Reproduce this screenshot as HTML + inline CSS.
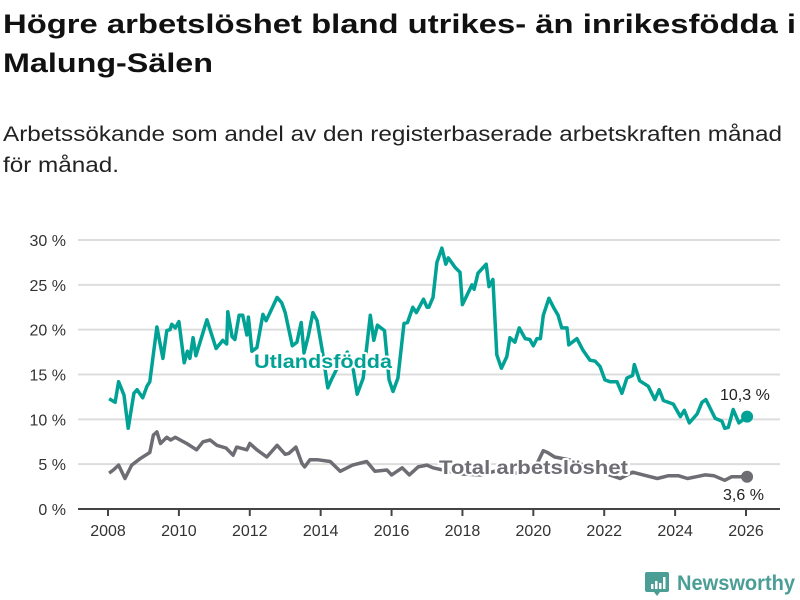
<!DOCTYPE html>
<html><head><meta charset="utf-8"><style>
html,body{margin:0;padding:0;background:#fff;width:800px;height:600px;overflow:hidden}
svg{display:block;font-family:"Liberation Sans",sans-serif}
</style></head><body>
<svg id="chart" width="800" height="600">
<text x="3" y="33" font-size="27" font-weight="bold" fill="#111" textLength="793" lengthAdjust="spacingAndGlyphs">Högre arbetslöshet bland utrikes- än inrikesfödda i</text>
<text x="3" y="72" font-size="27" font-weight="bold" fill="#111" textLength="210" lengthAdjust="spacingAndGlyphs">Malung-Sälen</text>
<text x="3" y="141" font-size="21" fill="#222" textLength="779" lengthAdjust="spacingAndGlyphs">Arbetssökande som andel av den registerbaserade arbetskraften månad</text>
<text x="3" y="172" font-size="21" fill="#222" textLength="116" lengthAdjust="spacingAndGlyphs">för månad.</text>
<g id="grid"></g><g id="xaxis"></g><g id="lines"></g><g id="labels"></g>
<g>
<path d="M647 572 h20 a2 2 0 0 1 2 2 v16 a2 2 0 0 1 -2 2 h-7 l-3 4 l-3 -4 h-7 a2 2 0 0 1 -2 -2 v-16 a2 2 0 0 1 2 -2z" fill="#4a9e95"/>
<rect x="651" y="584" width="2.5" height="5" fill="#fff"/><rect x="655" y="581" width="2.5" height="8" fill="#fff"/><rect x="659" y="583" width="2.5" height="6" fill="#fff"/><rect x="663" y="577" width="2.5" height="12" fill="#fff"/>
<text x="677" y="590" font-size="21" font-weight="bold" fill="#4a9e95" textLength="118" lengthAdjust="spacingAndGlyphs">Newsworthy</text>
</g>
</svg>
<script>
const yTicks=[0,5,10,15,20,25,30];
const xTicks=[2008,2010,2012,2014,2016,2018,2020,2022,2024,2026];
const foreignDates=[2008.03,2008.2,2008.3,2008.45,2008.57,2008.73,2008.82,2008.98,2009.1,2009.18,2009.38,2009.55,2009.66,2009.75,2009.8,2009.9,2010.0,2010.15,2010.24,2010.31,2010.4,2010.48,2010.79,2011.05,2011.24,2011.35,2011.38,2011.5,2011.58,2011.7,2011.8,2011.92,2011.96,2012.06,2012.2,2012.37,2012.46,2012.57,2012.77,2012.9,2013.0,2013.2,2013.33,2013.45,2013.53,2013.65,2013.78,2013.9,2014.04,2014.2,2014.3,2014.5,2014.75,2014.9,2015.03,2015.2,2015.4,2015.5,2015.6,2015.8,2015.93,2016.04,2016.18,2016.35,2016.45,2016.6,2016.7,2016.9,2017.0,2017.05,2017.17,2017.28,2017.42,2017.53,2017.6,2017.8,2017.93,2018.0,2018.27,2018.33,2018.44,2018.67,2018.75,2018.86,2018.97,2019.1,2019.25,2019.34,2019.48,2019.6,2019.77,2019.9,2020.0,2020.1,2020.2,2020.28,2020.44,2020.58,2020.7,2020.8,2020.95,2021.0,2021.23,2021.4,2021.6,2021.74,2021.88,2022.02,2022.16,2022.36,2022.5,2022.64,2022.8,2022.85,2023.0,2023.24,2023.43,2023.55,2023.67,2023.95,2024.15,2024.26,2024.4,2024.62,2024.76,2024.87,2025.13,2025.32,2025.4,2025.5,2025.64,2025.8,2026.03];
const foreignValues=[12.3,11.9,14.2,12.7,9.0,12.9,13.3,12.4,13.7,14.2,20.3,16.8,19.9,20.0,20.6,20.2,20.9,16.3,17.6,16.8,19.1,17.1,21.1,17.9,18.8,18.4,22.0,19.2,18.9,21.6,21.6,19.4,21.4,17.6,18.0,21.7,21.0,21.9,23.6,23.0,21.9,18.2,18.6,20.8,17.4,19.3,21.9,21.0,17.8,13.5,14.4,16.0,17.5,16.0,12.8,14.6,21.6,18.8,20.5,19.9,14.4,13.1,14.6,20.7,20.8,22.5,21.9,23.4,22.5,22.5,23.6,27.5,29.1,27.3,28.0,26.9,26.4,22.8,25.0,24.5,26.3,27.3,24.8,25.6,17.2,15.7,17.0,19.1,18.6,20.2,19.0,18.9,18.2,19.0,19.0,21.6,23.5,22.4,21.6,20.2,20.2,18.3,19.0,17.7,16.6,16.5,15.9,14.4,14.2,14.2,12.9,14.6,14.9,16.1,14.3,13.7,12.2,13.3,12.1,11.7,10.3,11.0,9.6,10.6,11.9,12.2,10.1,9.8,9.0,9.1,11.1,9.6,10.3];
const totalDates=[2008.03,2008.15,2008.3,2008.48,2008.67,2008.9,2009.18,2009.28,2009.38,2009.48,2009.66,2009.77,2009.9,2010.22,2010.5,2010.68,2010.88,2011.07,2011.33,2011.53,2011.63,2011.92,2012.0,2012.2,2012.48,2012.77,2013.0,2013.1,2013.3,2013.47,2013.55,2013.7,2013.9,2014.27,2014.55,2014.9,2015.3,2015.53,2015.87,2016.0,2016.3,2016.5,2016.75,2017.0,2017.17,2017.5,2018.0,2018.5,2019.0,2019.5,2020.0,2020.28,2020.4,2020.6,2021.0,2021.5,2022.0,2022.45,2022.8,2023.1,2023.5,2023.8,2024.1,2024.35,2024.6,2024.85,2025.1,2025.4,2025.6,2026.03];
const totalValues=[4.0,4.35,4.9,3.4,4.9,5.6,6.3,8.25,8.6,7.3,8.0,7.7,8.0,7.3,6.6,7.5,7.7,7.1,6.8,6.0,6.9,6.6,7.3,6.6,5.8,7.1,6.1,6.2,6.9,5.1,4.7,5.5,5.5,5.3,4.2,4.9,5.3,4.2,4.35,3.8,4.6,3.8,4.7,4.9,4.6,4.3,3.9,3.8,4.3,4.0,4.2,6.5,6.3,5.8,5.5,4.8,4.0,3.4,4.1,3.8,3.4,3.7,3.7,3.4,3.6,3.8,3.7,3.2,3.6,3.6];
const endLabels=["10,3 %","3,6 %"];
const NS="http://www.w3.org/2000/svg";
const X0=2008,X1=2026,PX0=108,PX1=746,PY0=509,PY30=240;
const sx=v=>PX0+(v-X0)*(PX1-PX0)/(X1-X0);
const sy=v=>PY0-v*(PY0-PY30)/30;
function mk(tag,attrs,parent){const e=document.createElementNS(NS,tag);for(const k in attrs)e.setAttribute(k,attrs[k]);parent.appendChild(e);return e;}
const grid=document.getElementById('grid');
yTicks.forEach(t=>{
  const l=mk('line',{x1:78,x2:780,y1:sy(t),y2:sy(t),stroke:t===0?'#444':'#ddd','stroke-width':2},grid);
  
  
  const tx=mk('text',{x:66,y:sy(t)+6,'text-anchor':'end','font-size':16,fill:'#333'},grid);
  tx.textContent=t+' %';
  
  
});
const xa=document.getElementById('xaxis');
xTicks.forEach(t=>{
  const l=mk('line',{x1:sx(t),x2:sx(t),y1:509,y2:516,stroke:'#444','stroke-width':2},xa);
  
  
  const tx=mk('text',{x:sx(t),y:536,'text-anchor':'middle','font-size':16,fill:'#333'},xa);
  tx.textContent=t;
  
  
});
const lines=document.getElementById('lines');
function series(d,v,color,name){
  const p=mk('path',{d:d.map((x,i)=>(i?'L':'M')+sx(x).toFixed(1)+' '+sy(v[i]).toFixed(1)).join(' '),fill:'none',stroke:color,'stroke-width':3.5,'stroke-linejoin':'round'},lines);
  
  
  const c=mk('circle',{cx:sx(d[d.length-1]),cy:sy(v[v.length-1]),r:6,fill:color},lines);
  
  
}
series(totalDates,totalValues,'#6e6d73','total');
series(foreignDates,foreignValues,'#00a295','foreign');
const lb=document.getElementById('labels');
function lab(x,y,txt,color,name,size,bold,len){
  const a={x:x,y:y,'font-size':size,fill:color,stroke:'#fff','stroke-width':4,'paint-order':'stroke','stroke-linejoin':'round'};
  if(bold)a['font-weight']='bold';
  if(len){a.textLength=len;a.lengthAdjust='spacingAndGlyphs';}
  const t=mk('text',a,lb);t.textContent=txt;
  
  
}
lab(254,368,'Utlandsfödda','#00a295','foreign-series-label',19,true,138);
lab(439,474,'Total arbetslöshet','#6e6d73','total-series-label',19,true,189);
lab(720,400,endLabels[0],'#222','foreign-end-value',16,false);
lab(723,500,endLabels[1],'#222','total-end-value',16,false);
</script>
</body></html>
